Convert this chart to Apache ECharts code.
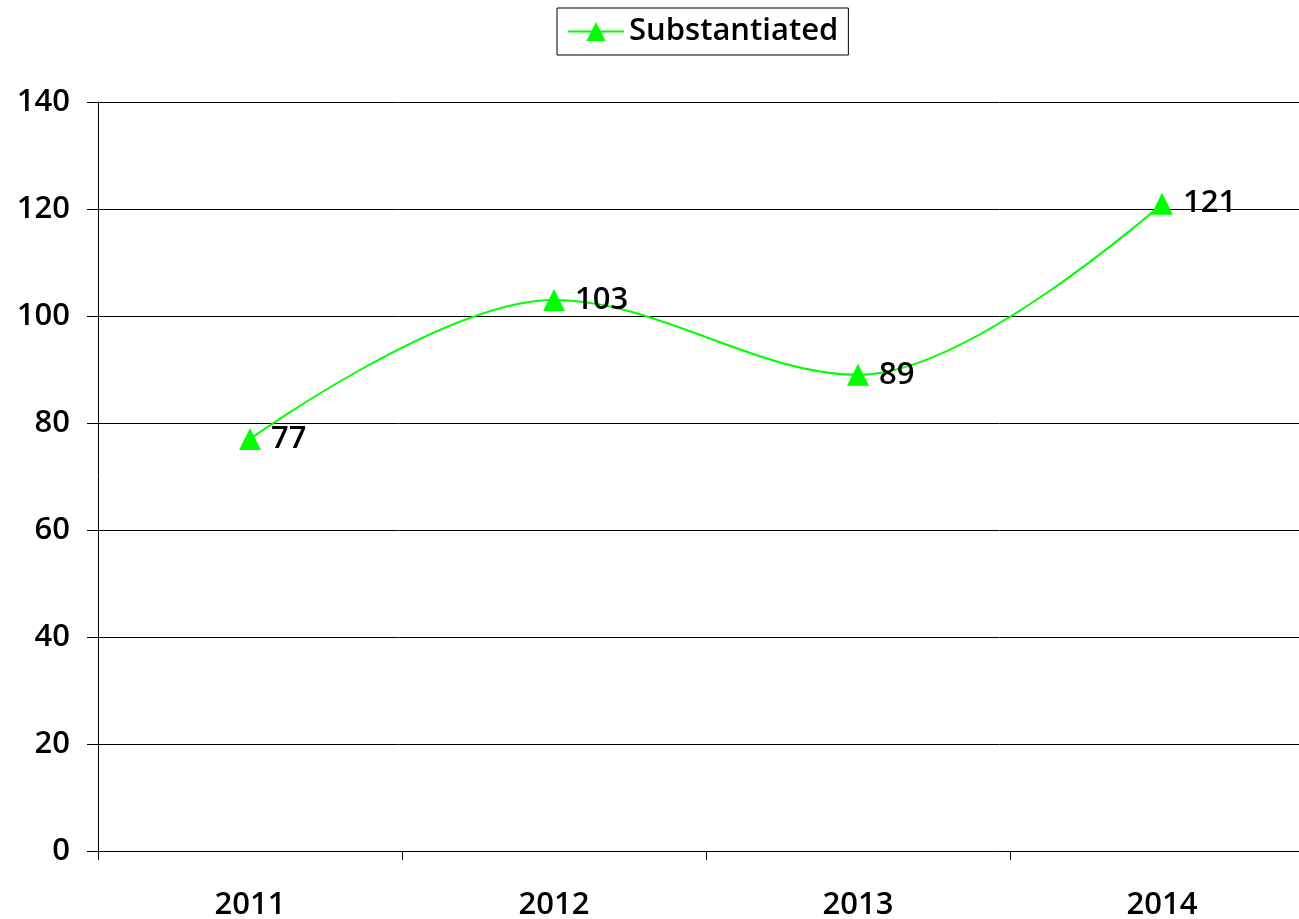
<!DOCTYPE html>
<html>
<head>
<meta charset="utf-8">
<script src="https://cdn.jsdelivr.net/npm/echarts@6/dist/echarts.min.js"></script>
<style>
html, body { margin: 0; padding: 0; background: #fff; }
#container { width: 1299px; height: 919px; }
</style>
</head>
<body>
<div id="container"></div>
<script>
var years = ['2011', '2012', '2013', '2014'];
var substantiated = [77, 103, 89, 121];
var yTicks = { min: 0, max: 140, interval: 20 };

var font = 'Open Sans';
var green = '#00ff00';
var myChart = echarts.init(document.getElementById('container'));

var option = {
    animation: false,
    legend: {
        top: 8,
        left: 557,
        data: ['Substantiated'],
        borderColor: '#000',
        borderWidth: 1,
        borderRadius: 0,
        padding: [8, 10, 8, 10],
        itemWidth: 56,
        itemHeight: 24,
        itemGap: 6,
        textStyle: { fontFamily: font, fontSize: 31, fontWeight: 600, color: '#000' }
    },
    grid: { left: 98, right: -15, top: 102, bottom: 68, outerBoundsMode: 'none' },
    xAxis: {
        type: 'category',
        data: years,
        boundaryGap: true,
        axisLine: { lineStyle: { color: '#000', width: 1 } },
        axisTick: { show: true, length: 9, lineStyle: { color: '#000' } },
        axisLabel: { fontFamily: font, fontSize: 31, fontWeight: 600, color: '#000', margin: 39 }
    },
    yAxis: {
        type: 'value',
        min: yTicks.min,
        max: yTicks.max,
        interval: yTicks.interval,
        axisLine: { show: true, lineStyle: { color: '#000', width: 1 } },
        axisTick: { show: true, length: 11, lineStyle: { color: '#000' } },
        splitLine: { show: true, lineStyle: { color: '#000', width: 1 } },
        axisLabel: { fontFamily: font, fontSize: 31, fontWeight: 600, color: '#000', margin: 28 }
    },
    series: [{
        name: 'Substantiated',
        type: 'line',
        data: substantiated,
        smooth: 0.35,
        symbol: 'triangle',
        symbolSize: 22,
        itemStyle: { color: green },
        lineStyle: { color: green, width: 2 },
        label: {
            show: true,
            position: 'right',
            distance: 10,
            fontFamily: font,
            fontSize: 31,
            fontWeight: 600,
            color: '#000'
        }
    }]
};
myChart.setOption(option);
</script>
</body>
</html>
